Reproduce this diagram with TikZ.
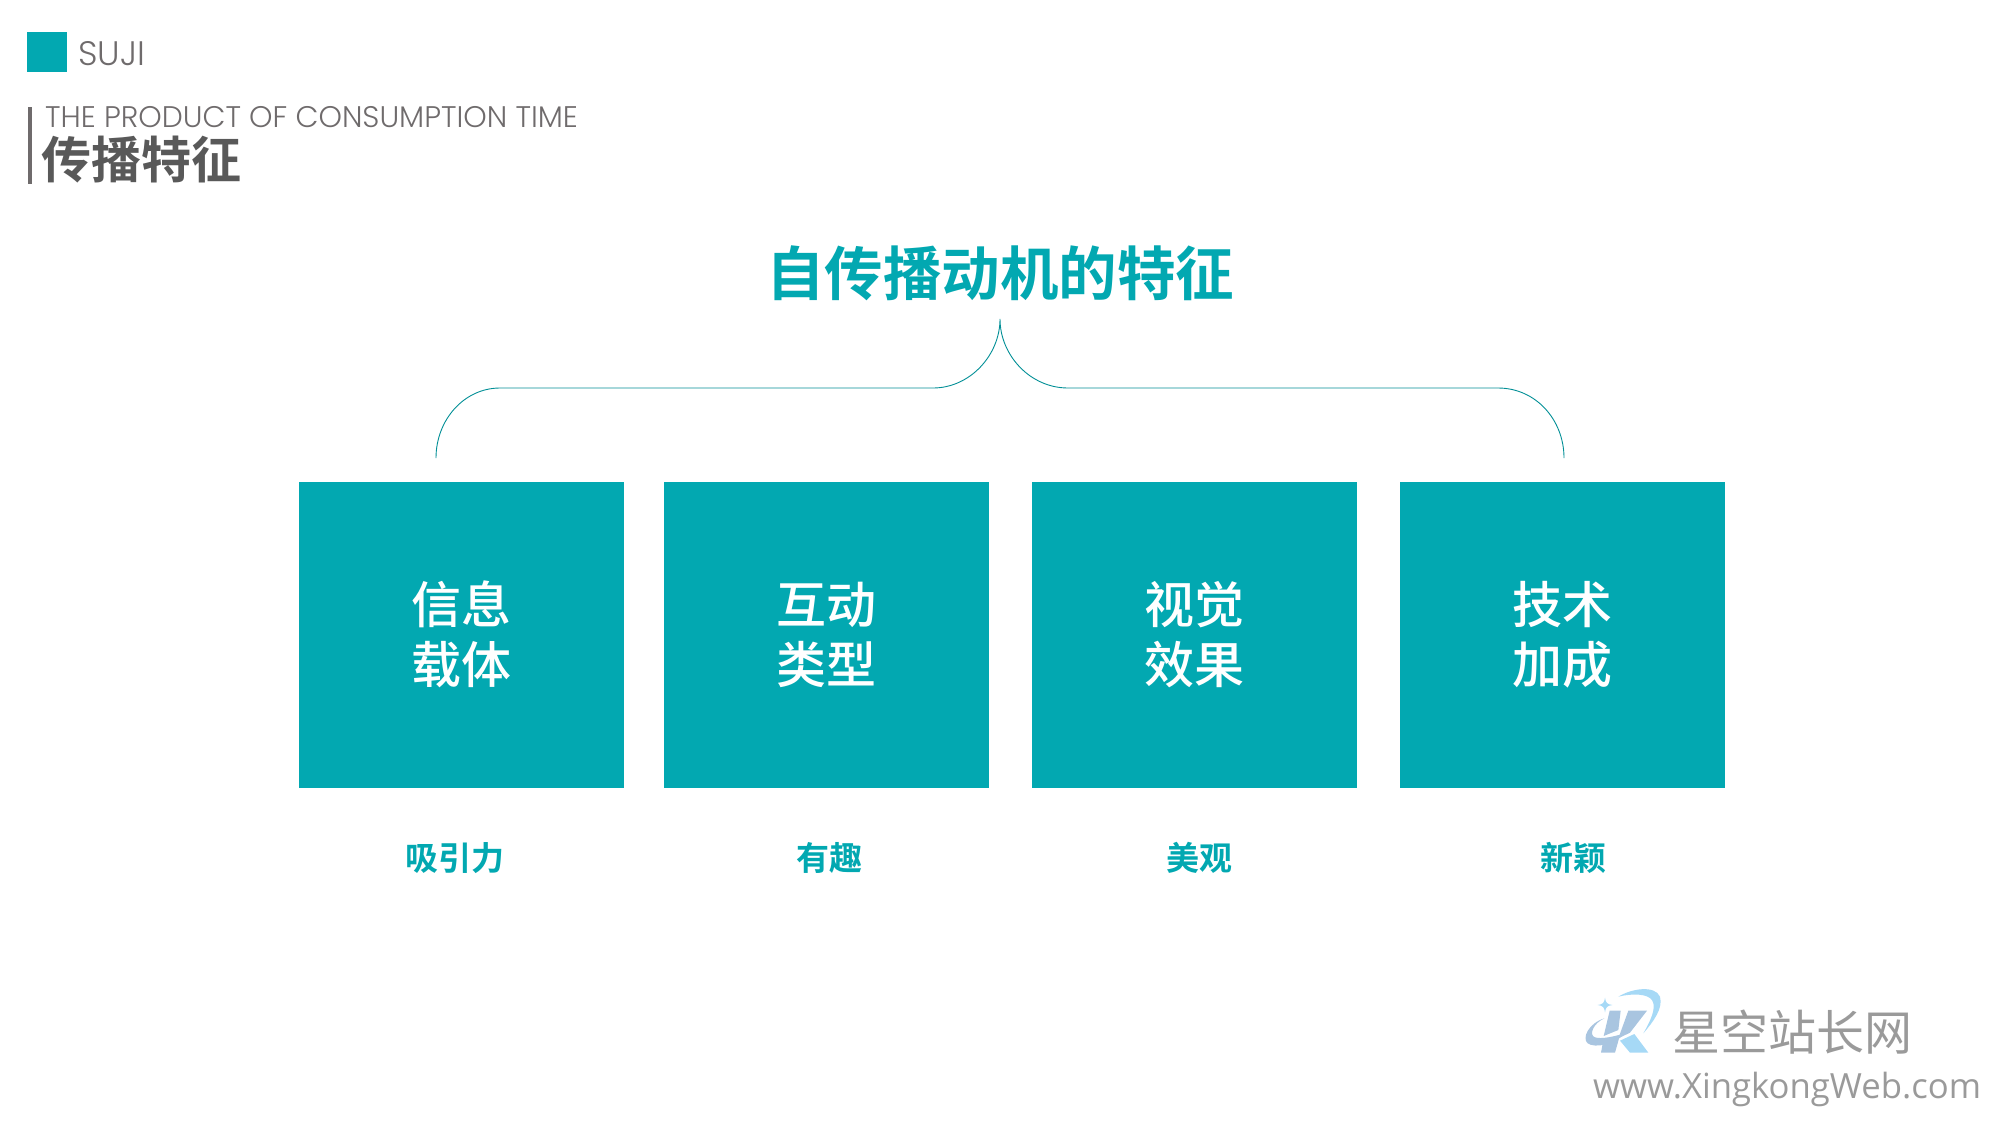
\documentclass[tikz,border=0pt]{standalone}
\usepackage{fontspec}
\usetikzlibrary{positioning}
\setmainfont{Poppins Light}
\newfontfamily\cjk{Noto Sans CJK SC Medium}
\newfontfamily\cjkr{Noto Sans CJK SC}
\newfontfamily\cjkb{Noto Sans CJK SC Bold}
\newfontfamily\webfont{Open Sans}
\definecolor{sujiteal}{HTML}{02A8B1}
\definecolor{sujigray}{HTML}{6F6B6C}
\definecolor{markgray}{HTML}{9A9A9A}
\definecolor{logolight}{HTML}{A6D9F6}
\definecolor{logoblue}{HTML}{A9C5E0}
\tikzset{
  featbox/.style={fill=sujiteal, text=white, minimum width=325pt, minimum height=306pt, inner sep=0pt, align=center, font=\fontsize{50}{60}\selectfont\cjk},
  subtag/.style={text=sujiteal, inner sep=0pt, font=\fontsize{33}{36}\selectfont\cjkb},
}
\begin{document}
\begin{tikzpicture}[x=1pt, y=-1pt]
\useasboundingbox (0,0) rectangle (2000,1125);

% header
\fill[sujiteal] (27,32) rectangle (67,72);
\node[anchor=west, inner sep=0pt, text=sujigray, font=\fontsize{34}{40}\selectfont] (suji) at (78,54) {SUJI};
\fill[sujigray] (28,107) rectangle (32,184);
\node[anchor=west, inner sep=0pt, text=sujigray, font=\fontsize{29.8}{30}\selectfont] (sub) at (45,117) {THE PRODUCT OF CONSUMPTION TIME};
\node[anchor=west, inner sep=0pt, text=black!65, font=\fontsize{50}{52}\selectfont\cjkb] (head) at (41,160) {传播特征};

\node[inner sep=0pt, text=sujiteal, font=\fontsize{58.5}{60}\selectfont\cjkb] (title) at (1000,273) {自传播动机的特征};

% brace
\draw[sujiteal!85!black, line width=.9pt] (436,458) .. controls (436,420) and (464,388) .. (500,388) -- (933,388)
  .. controls (970,388) and (1000,355) .. (1000,319)
  .. controls (1000,355) and (1030,388) .. (1068,388) -- (1498,388)
  .. controls (1536,388) and (1564,420) .. (1564,458);

% boxes
\node[featbox] (b1) at (461.5,634.6) {信息\\载体};
\node[featbox] (b2) at (826.5,634.6) {互动\\类型};
\node[featbox] (b3) at (1194.5,634.6) {视觉\\效果};
\node[featbox] (b4) at (1562.5,634.6) {技术\\加成};

\node[subtag] (t1) at (455,858) {吸引力};
\node[subtag] (t2) at (829,858) {有趣};
\node[subtag] (t3) at (1199,858) {美观};
\node[subtag] (t4) at (1573,858) {新颖};

% watermark
\begin{scope}[shift={(1575,980)}, x=.3333pt, y=-.3333pt]
\fill[logolight] (130,50) .. controls (170,25) and (240,15) .. (255,50) .. controls (265,85) and (235,125) .. (205,160)
  .. controls (225,125) and (245,85) .. (232,62) .. controls (220,40) and (170,40) .. (130,50) -- cycle;
\fill[logolight] (178,162) -- (220,218) -- (165,218) -- (135,182) -- cycle;
\fill[logolight] (90,53) .. controls (92,68) and (96,73) .. (112,75) .. controls (96,77) and (92,82) .. (90,97)
  .. controls (88,82) and (84,77) .. (68,75) .. controls (84,73) and (88,68) .. (90,53) -- cycle;
\fill[logoblue] (160,92) -- (216,92) -- (165,158) -- (130,175) -- cycle;
\fill[logoblue] (104,92) -- (137,92) -- (130,150) -- (86,168) -- cycle;
\fill[logoblue] (88,115) .. controls (55,130) and (40,165) .. (60,172) .. controls (80,178) and (115,170) .. (150,160)
  .. controls (115,195) and (60,205) .. (38,190) .. controls (20,175) and (40,130) .. (88,115) -- cycle;
\fill[logoblue] (85,180) -- (135,165) -- (120,218) -- (78,218) -- cycle;
\end{scope}
\node[anchor=west, inner sep=0pt, text=markgray, font=\fontsize{48}{50}\selectfont\cjkr] (mark) at (1672,1032) {星空站长网};
\node[anchor=west, inner sep=0pt, text=markgray, font=\fontsize{34.7}{38}\selectfont\webfont] (url) at (1593,1089) {www.XingkongWeb.com};
\end{tikzpicture}
\end{document}
